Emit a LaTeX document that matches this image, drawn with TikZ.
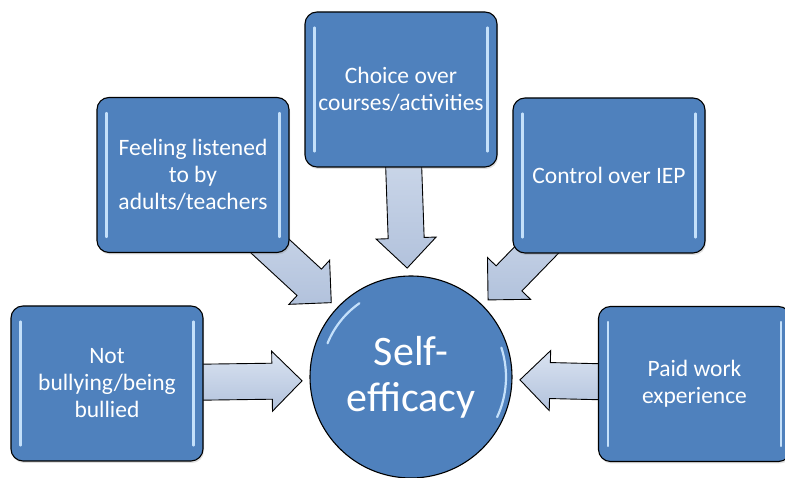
\documentclass[tikz,border=0pt]{standalone}
\usepackage{fontspec}
\setmainfont{Carlito}
\usetikzlibrary{calc,backgrounds,shadows}

\definecolor{boxblue}{RGB}{79,129,189}
\definecolor{arrowblue}{RGB}{178,194,220}
\definecolor{arrowlight}{RGB}{218,227,241}
\definecolor{shine}{RGB}{196,224,250}

\tikzset{
    factorbox/.style={draw=black, line width=1.1pt, rounded corners=12pt, fill=boxblue,
        text=white, align=center, minimum width=192pt, minimum height=155pt,
        font=\fontsize{23.5pt}{27pt}\selectfont,
        drop shadow={opacity=0.25, shadow xshift=1pt, shadow yshift=-2pt}},
    centrecircle/.style={circle, draw=black, line width=1.1pt, fill=boxblue, text=white,
        align=center, minimum size=202pt, font=\fontsize{42pt}{46pt}\selectfont},
    arrowbody/.style={draw=black, line width=0.9pt, top color=arrowlight, bottom color=arrowblue},
    shineline/.style={draw=shine, line width=2.2pt, line cap=round}
}

% fat arrow from #1 to #2, #3 names its base point
\newcommand{\blockarrow}[3]{%
    \coordinate (#3) at ($(#2)!30pt!(#1)$);
    \path[arrowbody] ($(#1)!18pt!90:(#2)$) -- ($(#3)!18pt!-90:(#1)$) -- ($(#3)!30pt!-90:(#1)$)
        -- (#2) -- ($(#3)!30pt!90:(#1)$) -- ($(#3)!18pt!90:(#1)$) -- ($(#1)!18pt!-90:(#2)$) -- cycle;
}

\begin{document}
\begin{tikzpicture}[x=1pt,y=1pt]
    \useasboundingbox (0,0) rectangle (785,478);

    %centre
    \node [centrecircle] (self) at (411,101) {Self-\\efficacy};

    %boxes
    \node [factorbox] (choice) at (401,388.5) {Choice over\\courses/activities};
    \node [factorbox] (listened) at (193,303) {Feeling listened\\to by\\adults/teachers};
    \node [factorbox] (iep) at (609,302.5) {Control over IEP};
    \node [factorbox] (bully) at (107,94.5) {Not\\bullying/being\\bullied};
    \node [factorbox] (paid) at (694.5,94) {Paid work\\experience};

    %arrow tips round the circle
    \coordinate (tipchoice) at ($(self.center)+(92:109)$);
    \coordinate (tiplistened) at ($(self.center)+(137:109)$);
    \coordinate (tipiep) at ($(self.center)+(45:109)$);
    \coordinate (tipbully) at ($(self.center)+(182:109)$);
    \coordinate (tippaid) at ($(self.center)+(-1.5:109)$);

    %arrows behind the boxes
    \begin{scope}[on background layer]
        \blockarrow{choice.center}{tipchoice}{basechoice}
        \blockarrow{listened.center}{tiplistened}{baselistened}
        \blockarrow{iep.center}{tipiep}{baseiep}
        \blockarrow{bully.center}{tipbully}{basebully}
        \blockarrow{paid.center}{tippaid}{basepaid}
    \end{scope}

    %light edges
    \foreach \b in {choice,listened,iep,bully,paid} {
        \draw [shineline] ($(\b.north west)+(10,-16)$) -- ($(\b.south west)+(10,16)$);
        \draw [shineline] ($(\b.north east)+(-10,-16)$) -- ($(\b.south east)+(-10,16)$);
    }
    \draw [shineline] ($(self.center)+(125:90)$) arc (125:158:90);
    \draw [shineline] ($(self.center)+(-25:95)$) arc (-25:18:95);
\end{tikzpicture}
\end{document}
